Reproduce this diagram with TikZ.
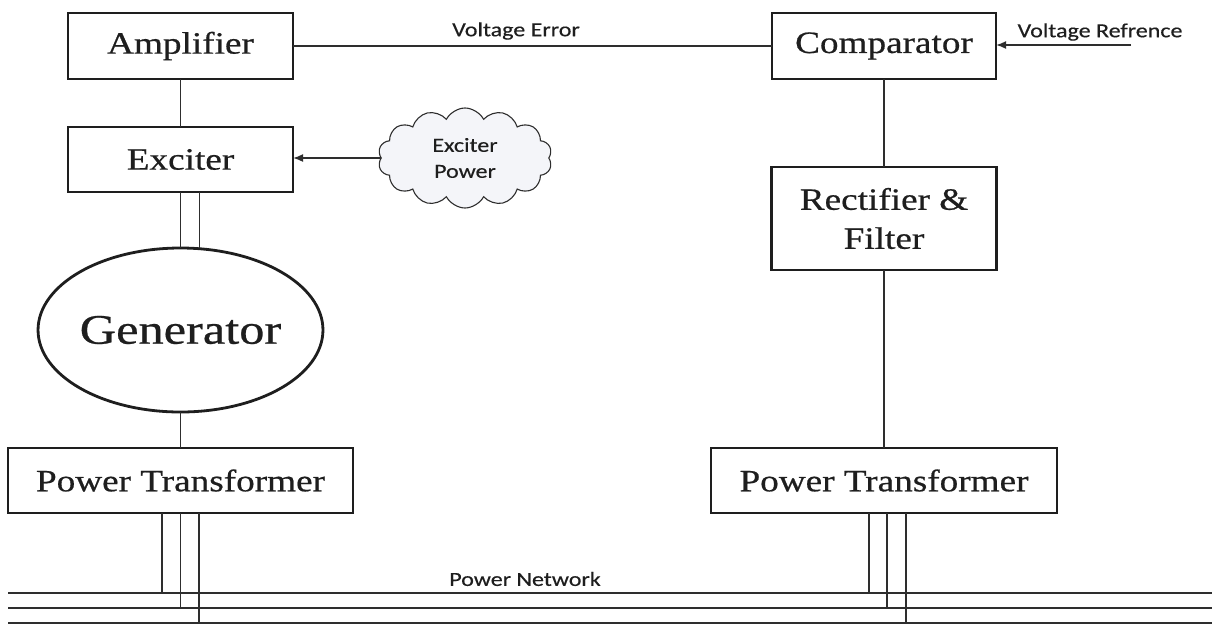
\documentclass[tikz,border=0pt]{standalone}
\usepackage{fontspec}
\setmainfont[FakeStretch=1.2,FakeBold=0.6]{Liberation Serif}
\newfontfamily\lblfont[FakeStretch=1.2,FakeBold=0.4]{Carlito}
\usetikzlibrary{shapes.geometric,shapes.symbols,arrows.meta,calc}
\definecolor{ink}{HTML}{1E1E1E}
\definecolor{wire}{HTML}{2E2E2E}
\definecolor{cloudfill}{HTML}{F4F5F9}
\tikzset{
  blk/.style={draw=ink, line width=2.5pt, rectangle, inner sep=0pt, outer sep=0pt,
    text=ink, font=\fontsize{31}{39}\selectfont, align=center},
  genshape/.style={draw=ink, line width=2.8pt, ellipse, inner sep=0pt, outer sep=0pt,
    minimum width=283pt, minimum height=164pt, text=ink, font=\fontsize{42}{48}\selectfont},
  wirel/.style={draw=wire, line width=1.7pt},
  arr/.style={wirel, -{Latex[length=10pt,width=8pt]}},
  lbl/.style={text=ink, font=\lblfont\fontsize{20}{22}\selectfont, inner sep=0pt},
  cloudnode/.style={cloud, cloud puffs=14, cloud puff arc=125, aspect=1.7, draw=wire,
    line width=1.1pt, fill=cloudfill, minimum width=174pt, minimum height=100pt,
    inner sep=0pt, text=ink, align=center, font=\lblfont\fontsize{20}{26}\selectfont}
}
\begin{document}
\begin{tikzpicture}[x=1pt,y=-1pt]
\useasboundingbox[fill=white] (0,0) rectangle (1212,625);

% blocks
\node[blk, minimum width=225pt, minimum height=66pt] (amp) at (180.5,46) {Amplifier};
\node[blk, minimum width=225pt, minimum height=65pt] (exc) at (180.5,159.5) {Exciter};
\node[genshape] (gen) at (180.5,330) {Generator};
\node[blk, minimum width=345pt, minimum height=65pt] (pta) at (180.5,480.5) {Power Transformer};
\node[blk, minimum width=224pt, minimum height=66pt] (cmp) at (884,46) {Comparator};
\node[blk, minimum width=225pt, minimum height=103pt] (rec) at (884,218.5) {Rectifier \&\\Filter};
\node[blk, minimum width=346pt, minimum height=65pt] (ptb) at (884,480.5) {Power Transformer};
\node[cloudnode] (cld) at (465,158) {Exciter\\Power};

% labels
\node[lbl] (lve) at (516,31) {Voltage Error};
\node[lbl] (lvr) at (1100,32) {Voltage Refrence};
\node[lbl] (lpn) at (525,579) {Power Network};

% free ends
\coordinate (vref) at (1131,45);
\coordinate (n1l) at (8,593);   \coordinate (n1r) at (1212,593);
\coordinate (n2l) at (8,608);   \coordinate (n2r) at (1212,608);
\coordinate (n3l) at (8,623);   \coordinate (n3r) at (1212,623);

% network bus
\draw[wirel] (n1l) -- (n1r);
\draw[wirel] (n2l) -- (n2r);
\draw[wirel] (n3l) -- (n3r);

% left chain
\draw[wirel] (amp.south) -- (exc.north);
\draw[wirel] (exc.south) -- (gen.north);
\draw[wirel] ([xshift=19pt]exc.south) -- ([xshift=19pt]exc.south |- gen.north);
\draw[wirel] (gen.south) -- (pta.north);
\draw[wirel] ([xshift=-18.5pt]pta.south) -- ([xshift=-18.5pt]pta.south |- n1l);
\draw[wirel] (pta.south) -- (pta.south |- n2l);
\draw[wirel] ([xshift=18.5pt]pta.south) -- ([xshift=18.5pt]pta.south |- n3l);

% cloud to exciter
\draw[arr] (cld.west) -- (cld.west -| exc.east);

% voltage error
\draw[wirel] (amp.east) -- (cmp.west);

% right chain
\draw[arr] (vref) -- (vref -| cmp.east);
\draw[wirel] (cmp.south) -- (rec.north);
\draw[wirel] (rec.south) -- (ptb.north);
\draw[wirel] ([xshift=-15pt]ptb.south) -- ([xshift=-15pt]ptb.south |- n1l);
\draw[wirel] ([xshift=3pt]ptb.south) -- ([xshift=3pt]ptb.south |- n2l);
\draw[wirel] ([xshift=22pt]ptb.south) -- ([xshift=22pt]ptb.south |- n3l);
\end{tikzpicture}
\end{document}
